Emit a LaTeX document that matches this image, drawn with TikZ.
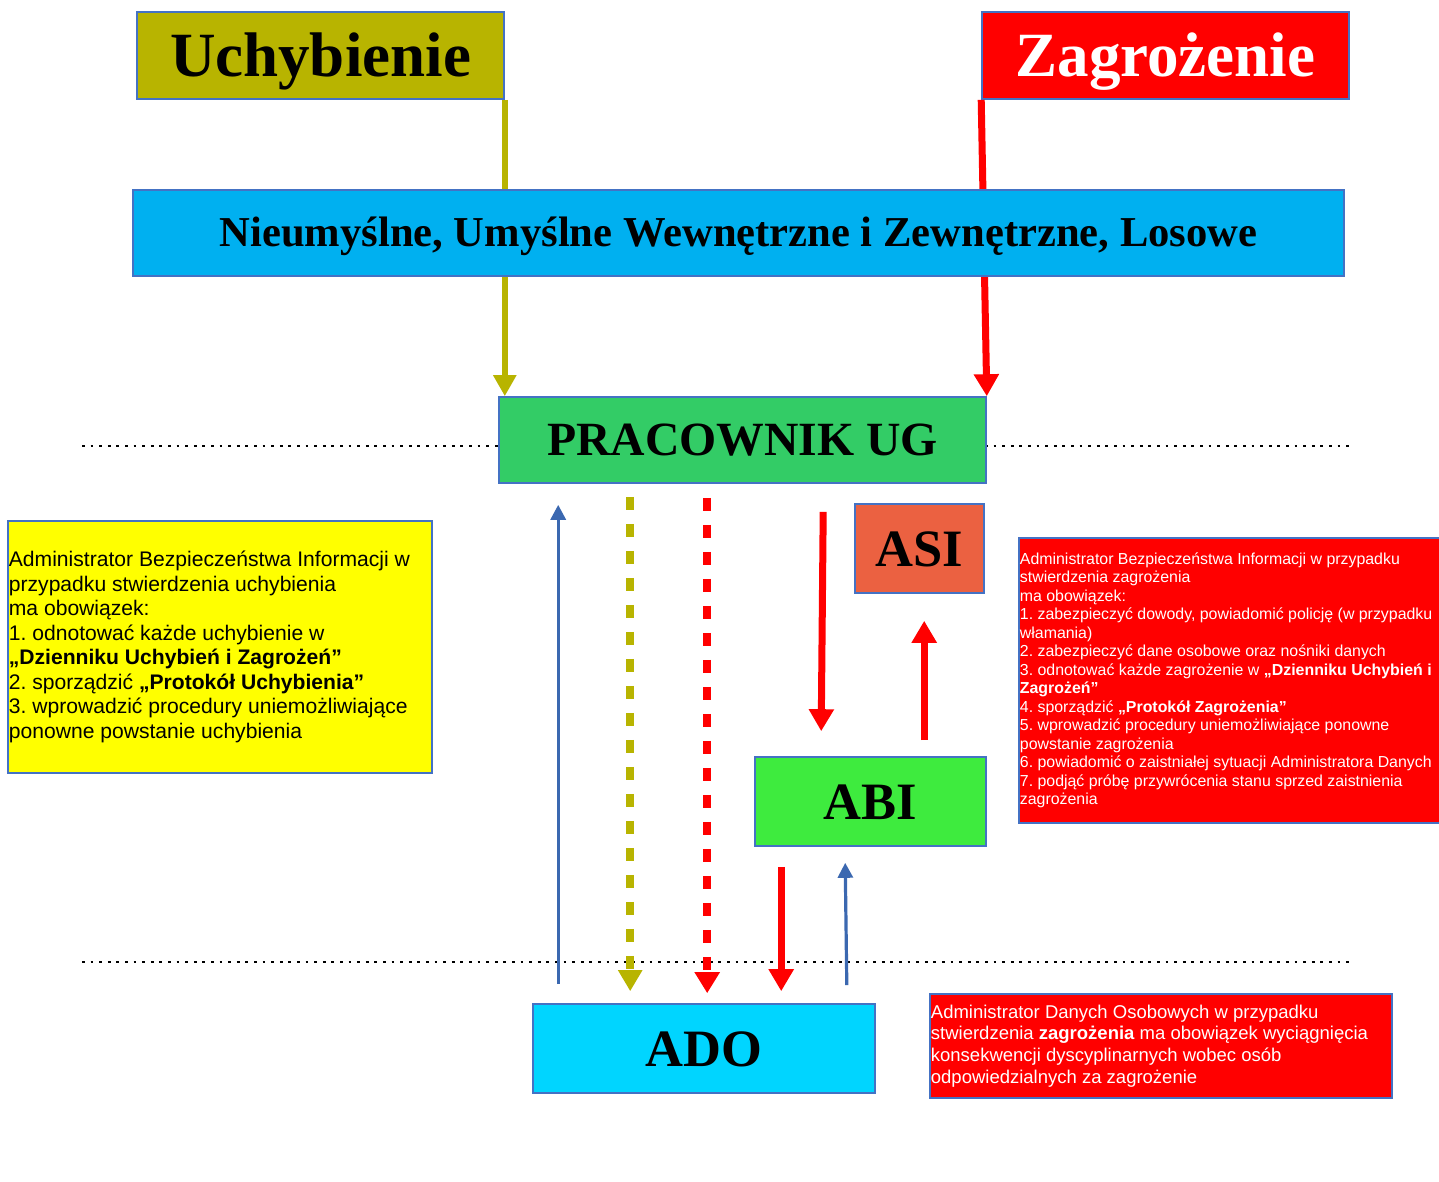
\documentclass[tikz,border=0pt]{standalone}
\usepackage{fontspec}
\setmainfont{Liberation Serif}
\setsansfont{Liberation Sans}
\usetikzlibrary{arrows.meta,calc}
\definecolor{cOlive}{HTML}{B8B400}
\definecolor{cRed}{HTML}{FF0000}
\definecolor{cSky}{HTML}{00B0F0}
\definecolor{cPw}{HTML}{33CC66}
\definecolor{cAsi}{HTML}{EB6141}
\definecolor{cAbi}{HTML}{3EEB3E}
\definecolor{cAdo}{HTML}{00D5FF}
\definecolor{cYel}{HTML}{FFFF00}
\definecolor{cBorder}{HTML}{4472C4}
\definecolor{cBlueArr}{HTML}{3B68B0}
\frenchspacing
\begin{document}
\frenchspacing
\begin{tikzpicture}[x=1pt,y=-1pt,
  box/.style={draw=cBorder, line width=1.6pt, inner sep=0pt, align=center},
  title/.style={box, font=\bfseries\fontsize{63}{63}\selectfont, text height=42pt, text depth=0pt,
     minimum width=367pt, minimum height=87pt},
  big/.style={box, font=\bfseries\fontsize{52.5}{52.5}\selectfont, text height=35pt, text depth=0pt,
     minimum height=89pt},
  infobox/.style={draw=cBorder, line width=1.6pt, inner sep=0pt},
  infotext/.style={anchor=west, inner sep=0pt, xshift=1.5pt, align=left},
  dotline/.style={black, line width=2.8pt, dash pattern=on 2.8pt off 5.8pt},
  oliveArr/.style={cOlive, line width=6.5pt, -{Triangle[width=22pt,length=21pt]}},
  redArr/.style={cRed, line width=7pt, -{Triangle[width=24pt,length=22pt]}},
  redDash/.style={cRed, line width=7.5pt, dash pattern=on 13pt off 14pt, -{Triangle[width=24pt,length=21pt]}},
  oliveDash/.style={cOlive, line width=7.5pt, dash pattern=on 13pt off 14pt, -{Triangle[width=23pt,length=21pt]}},
  blueArr/.style={cBlueArr, line width=3.2pt, -{Triangle[width=15pt,length=15pt]}}
]
\useasboundingbox (0,0) rectangle (1439,1182);

% dotted separator lines
\coordinate (d1a) at (82,446);
\coordinate (d1b) at (1352,446);
\coordinate (d2a) at (82,962);
\coordinate (d2b) at (1352,962);
\draw[dotline] (d1a) -- (d1b);
\draw[dotline] (d2a) -- (d2b);

% nodes
\node[title, fill=cOlive, text=black] (uchyb) at (320.5,55.5) {Uchybienie};
\node[title, fill=cRed, text=white] (zagr) at (1165.5,55.5) {Zagrożenie};
\node[box, fill=cPw, font=\bfseries\fontsize{47.7}{47.7}\selectfont, text height=31.5pt, text depth=0pt,
      minimum width=487pt, minimum height=86pt] (pw) at (742.5,440) {PRACOWNIK UG};

% top arrows (pass behind the wide blue box)
\draw[oliveArr] (uchyb.south east) -- (uchyb.south east |- pw.north);
\draw[redArr] (zagr.south west) -- (pw.north east);

\node[box, fill=cSky, font=\bfseries\fontsize{42.6}{42.6}\selectfont, text height=28pt, text depth=0pt,
      minimum width=1211pt, minimum height=86pt] (nieum) at (738.5,233)
      {Nieumyślne, Umyślne Wewnętrzne i Zewnętrzne, Losowe};

\node[big, fill=cAsi, minimum width=129pt] (asi) at (919.5,548.5) {ASI};
\node[big, fill=cAbi, minimum width=231pt] (abi) at (870.5,801.5) {ABI};
\node[big, fill=cAdo, minimum width=342pt] (ado) at (704,1048.5) {ADO};

% info boxes
\node[infobox, fill=cYel, minimum width=424pt, minimum height=252pt] (abiU) at (220,647) {};
\node[infotext, text=black, font=\sffamily\fontsize{21.1}{24.5}\selectfont] (abiUt) at (abiU.west)
{Administrator Bezpieczeństwa Informacji w\\
przypadku stwierdzenia uchybienia\\
ma obowiązek:\\
1. odnotować każde uchybienie w\\
\textbf{„Dzienniku Uchybień i Zagrożeń”}\\
2. sporządzić \textbf{„Protokół Uchybienia”}\\
3. wprowadzić procedury uniemożliwiające\\
ponowne powstanie uchybienia};

\node[infobox, fill=cRed, minimum width=426pt, minimum height=285pt] (abiZ) at (1232,680.5) {};
\node[infotext, text=white, font=\sffamily\fontsize{15.9}{18.5}\selectfont] (abiZt) at (abiZ.west)
{Administrator Bezpieczeństwa Informacji w przypadku\\
stwierdzenia zagrożenia\\
ma obowiązek:\\
1. zabezpieczyć dowody, powiadomić policję (w przypadku\\
włamania)\\
2. zabezpieczyć dane osobowe oraz nośniki danych\\
3. odnotować każde zagrożenie w \textbf{„Dzienniku Uchybień i}\\
\textbf{Zagrożeń”}\\
4. sporządzić \textbf{„Protokół Zagrożenia”}\\
5. wprowadzić procedury uniemożliwiające ponowne\\
powstanie zagrożenia\\
6. powiadomić o zaistniałej sytuacji Administratora Danych\\
7. podjąć próbę przywrócenia stanu sprzed zaistnienia\\
zagrożenia};

\node[infobox, fill=cRed, minimum width=462pt, minimum height=104pt] (adoZ) at (1161,1046) {};
\node[infotext, text=white, font=\sffamily\fontsize{18.5}{21.7}\selectfont] (adoZt) at (adoZ.west)
{Administrator Danych Osobowych w przypadku\\
stwierdzenia \textbf{zagrożenia} ma obowiązek wyciągnięcia\\
konsekwencji dyscyplinarnych wobec osób\\
odpowiedzialnych za zagrożenie};

% arrows between PRACOWNIK UG, ASI, ABI and ADO
\draw[blueArr] ([xshift=26pt,yshift=19pt]ado.north west) -- ([xshift=60pt,yshift=-21pt]pw.south west);
\draw[oliveDash] ([xshift=132pt,yshift=-13pt]pw.south west) -- ([xshift=98pt,yshift=12pt]ado.north west);
\draw[redDash] ([xshift=209pt,yshift=-14pt]pw.south west) -- ([xshift=175pt,yshift=10pt]ado.north west);
\draw[redArr] ([xshift=325pt,yshift=-28pt]pw.south west) -- ([xshift=67pt,yshift=25pt]abi.north west);
\draw[redArr] ([xshift=170pt,yshift=16pt]abi.north west) -- ([xshift=70pt,yshift=-27pt]asi.south west);
\draw[redArr] ([xshift=27pt,yshift=-20pt]abi.south west) -- ([xshift=249pt,yshift=12pt]ado.north west);
\draw[blueArr] ([xshift=-29pt,yshift=18pt]ado.north east) -- ([xshift=91pt,yshift=-16pt]abi.south west);
\end{tikzpicture}
\end{document}
